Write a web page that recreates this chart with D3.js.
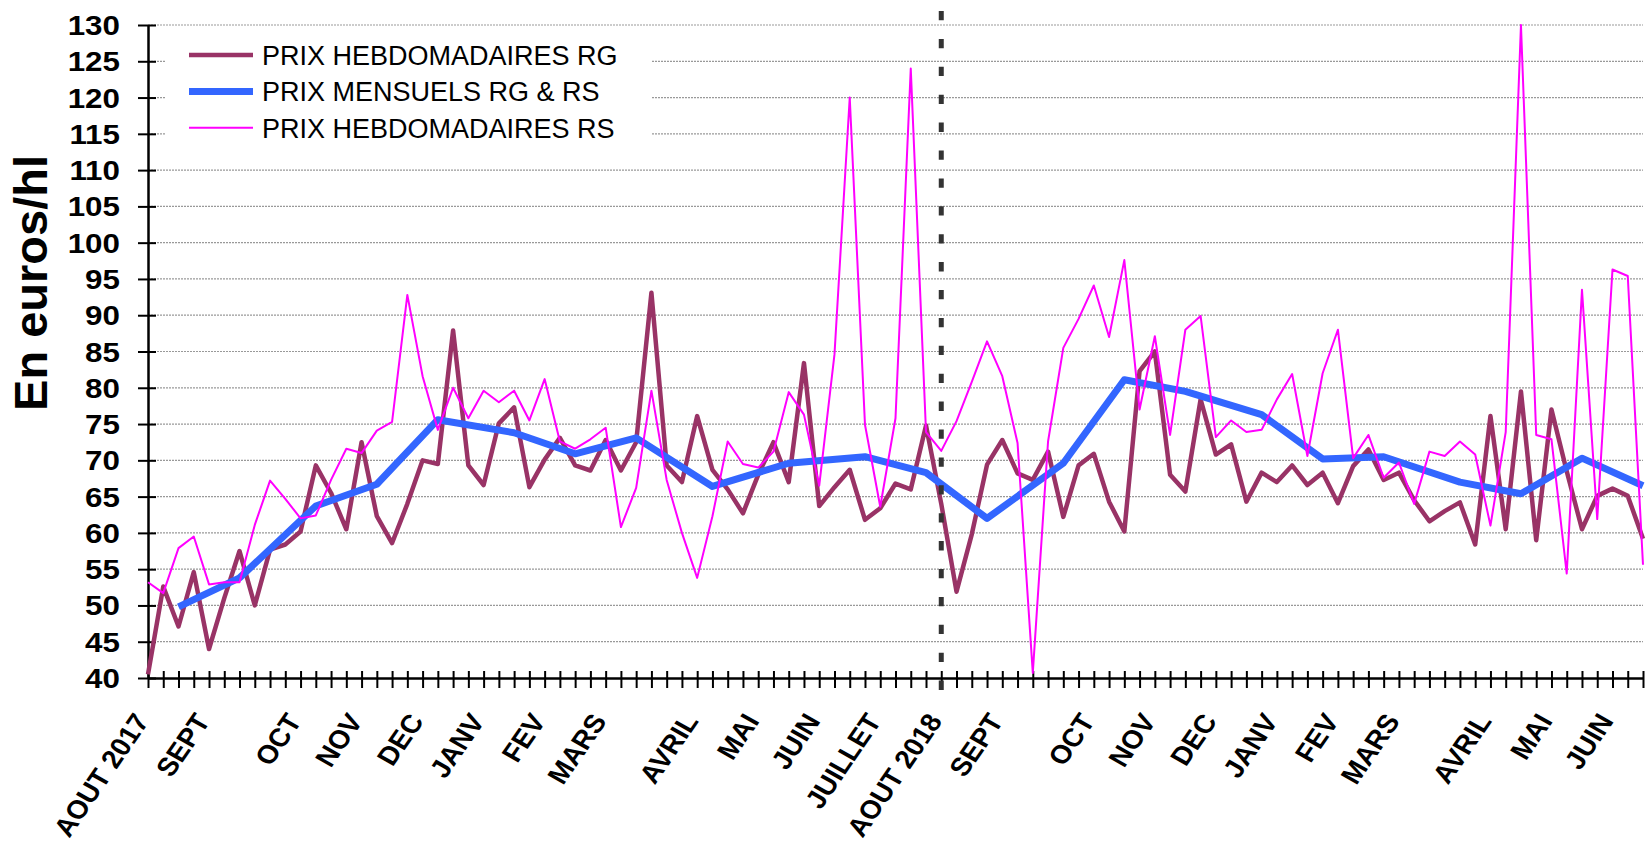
<!DOCTYPE html>
<html lang="fr">
<head>
<meta charset="utf-8">
<title>Prix hebdomadaires et mensuels RG / RS</title>
<script src="https://d3js.org/d3.v7.min.js"></script>
<style>
  body { margin: 0; background: #fff; }
  svg { display: block; font-family: Arial, "Liberation Sans", sans-serif; }
  .axis path, .axis line { stroke: #000; }
  .grid line { stroke: #999; stroke-width: 1.2px; stroke-dasharray: 2,1; }
</style>
</head>
<body>
<div id="chart"></div>
<script>
// weekly prices from AOUT 2017 to JUIN 2019 (99 weeks, index 0..98)
var prixRG = [40.5, 52.6, 47.1, 54.6, 44.0, 51.0, 57.5, 50.0, 57.7, 58.4,
              60.2, 69.3, 65.5, 60.5, 72.5, 62.3, 58.6, 64.0, 70.0, 69.5,
              87.9, 69.3, 66.6, 75.1, 77.3, 66.3, 70.1, 73.1, 69.3, 68.6,
              72.8, 68.6, 72.5, 93.1, 69.3, 67.0, 76.1, 68.7, 66.0, 62.7,
              68.0, 72.5, 67.0, 83.4, 63.7, 66.3, 68.7, 61.8, 63.4, 66.8,
              66.0, 74.8, 64.0, 51.9, 59.8, 69.4, 72.8, 68.2, 67.3, 71.2,
              62.2, 69.3, 70.9, 64.3, 60.2, 82.3, 85.0, 68.0, 65.7, 78.4,
              70.8, 72.2, 64.3, 68.3, 67.0, 69.3, 66.6, 68.3, 64.1, 69.2,
              71.5, 67.3, 68.3, 64.5, 61.6, 63.0, 64.2, 58.4, 76.1, 60.5,
              79.5, 59.0, 77.0, 68.5, 60.5, 65.1, 66.1, 65.1, 59.2];

var prixRS = [53.2, 51.7, 57.9, 59.5, 52.9, 53.2, 53.2, 61.1, 67.2, 64.7,
              62.0, 62.4, 67.3, 71.6, 71.0, 74.1, 75.3, 92.8, 81.6, 74.2,
              80.0, 75.8, 79.6, 78.0, 79.6, 75.5, 81.2, 72.6, 71.6, 72.9,
              74.5, 60.8, 66.2, 79.6, 67.3, 60.0, 53.8, 62.3, 72.6, 69.5,
              69.0, 71.2, 79.4, 76.3, 66.5, 84.6, 120.0, 74.9, 63.6, 75.8,
              124.0, 73.9, 71.3, 75.4, 80.8, 86.4, 81.6, 72.4, 40.7, 72.6,
              85.5, 89.5, 94.1, 87.0, 97.6, 77.0, 87.1, 73.5, 88.0, 89.9,
              73.2, 75.5, 73.9, 74.2, 78.4, 81.9, 70.6, 82.0, 88.0, 70.3,
              73.5, 67.6, 69.7, 64.0, 71.2, 70.6, 72.6, 70.8, 61.0, 73.9,
              130.0, 73.5, 72.9, 54.4, 93.5, 61.9, 96.3, 95.4, 55.6];

// monthly price RG & RS, with the week where each month is plotted
var moisIdx     = [2, 6, 11, 15, 19, 24, 28, 32, 37, 42, 47, 51,
                   55, 60, 64, 68, 73, 77, 81, 86, 90, 94, 98];
var prixMensuel = [49.8, 53.8, 63.7, 66.7, 75.6, 73.8, 70.9, 73.1, 66.4, 69.6, 70.5, 68.3,
                   62.0, 69.6, 81.1, 79.5, 76.3, 70.2, 70.5, 67.0, 65.4, 70.3, 66.5];

// month labels on the category axis
var labelIdx = [0, 4, 10, 14, 18, 22, 26, 30, 36, 40, 44, 48,
                52, 56, 62, 66, 70, 74, 78, 82, 88, 92, 96];
var labelTxt = ["AOUT 2017", "SEPT", "OCT", "NOV", "DEC", "JANV", "FEV", "MARS", "AVRIL", "MAI", "JUIN", "JUILLET",
                "AOUT 2018", "SEPT", "OCT", "NOV", "DEC", "JANV", "FEV", "MARS", "AVRIL", "MAI", "JUIN"];

var yTicks = d3.range(40, 131, 5);
var coupure = 52; // AOUT 2018

var legendNames  = ["PRIX HEBDOMADAIRES RG", "PRIX MENSUELS RG & RS", "PRIX HEBDOMADAIRES RS"];
var legendColors = ["#993366", "#3366ff", "#ff00ff"];
var legendWidths = [4.5, 7, 2];

var width = 1646, height = 845;

var svg = d3.select("#chart").append("svg")
    .attr("width", width)
    .attr("height", height);

var x = d3.scaleLinear().domain([0, prixRG.length - 1]).range([148, 1643]);
var y = d3.scaleLinear().domain([40, 130]).range([678, 25]);

// horizontal gridlines
svg.append("g").attr("class", "grid")
    .selectAll("line")
    .data(yTicks.slice(1))
    .enter().append("line")
    .attr("x1", x(0)).attr("x2", x(prixRG.length - 1))
    .attr("y1", function(d) { return y(d); })
    .attr("y2", function(d) { return y(d); });

// y axis, ticks crossing the line
var yAxis = svg.append("g").attr("class", "axis")
    .attr("transform", "translate(" + x(0) + ",0)")
    .call(d3.axisLeft(y).tickValues(yTicks).tickSize(10).tickSizeOuter(0).tickFormat(""));
yAxis.select(".domain").attr("stroke-width", 2.5);
yAxis.selectAll(".tick line").attr("x1", 8).attr("stroke-width", 2);

svg.append("g").selectAll("text")
    .data(yTicks)
    .enter().append("text")
    .attr("transform", function(d) { return "translate(120," + (y(d) + 10) + ") scale(1.12,1)"; })
    .attr("text-anchor", "end")
    .attr("font-size", 28)
    .attr("font-weight", "bold")
    .text(function(d) { return d; });

svg.append("text")
    .attr("transform", "translate(47,283) rotate(-90)")
    .attr("text-anchor", "middle")
    .attr("font-size", 47)
    .attr("font-weight", "bold")
    .text("En euros/hl");

// x axis, one tick per week
var xAxis = svg.append("g").attr("class", "axis")
    .attr("transform", "translate(0," + y(40) + ")")
    .call(d3.axisBottom(x).tickValues(d3.range(prixRG.length)).tickSize(10).tickSizeOuter(0).tickFormat(""));
xAxis.select(".domain").attr("stroke-width", 2.5);
xAxis.selectAll(".tick line").attr("y1", -7).attr("stroke-width", 2);

svg.append("g").selectAll("text")
    .data(labelIdx)
    .enter().append("text")
    .attr("transform", function(d) { return "translate(" + (x(d) + 2) + ",721) scale(1.1,1) rotate(-58)"; })
    .attr("text-anchor", "end")
    .attr("font-size", 26)
    .attr("font-weight", "bold")
    .text(function(d, i) { return labelTxt[i]; });

// series
var line = d3.line()
    .x(function(d) { return x(d[0]); })
    .y(function(d) { return y(d[1]); });

svg.append("path")
    .datum(prixRG.map(function(v, i) { return [i, v]; }))
    .attr("fill", "none")
    .attr("stroke", legendColors[0])
    .attr("stroke-width", legendWidths[0])
    .attr("stroke-linejoin", "round")
    .attr("d", line);

svg.append("path")
    .datum(moisIdx.map(function(v, i) { return [v, prixMensuel[i]]; }))
    .attr("fill", "none")
    .attr("stroke", legendColors[1])
    .attr("stroke-width", legendWidths[1])
    .attr("stroke-linejoin", "round")
    .attr("d", line);

svg.append("path")
    .datum(prixRS.map(function(v, i) { return [i, v]; }))
    .attr("fill", "none")
    .attr("stroke", legendColors[2])
    .attr("stroke-width", legendWidths[2])
    .attr("stroke-linejoin", "round")
    .attr("d", line);

// separation between the two campaigns
svg.append("line")
    .attr("x1", x(coupure)).attr("x2", x(coupure))
    .attr("y1", 11).attr("y2", 690)
    .attr("stroke", "#333")
    .attr("stroke-width", 5)
    .attr("stroke-dasharray", "9.3,18.6");

// legend
var legend = svg.append("g");
legend.append("rect")
    .attr("x", 165).attr("y", 33)
    .attr("width", 486).attr("height", 115)
    .attr("fill", "#fff");

var items = legend.selectAll("g.item")
    .data(legendNames)
    .enter().append("g")
    .attr("class", "item")
    .attr("transform", function(d, i) { return "translate(0," + (55 + i * 36.4) + ")"; });

items.append("line")
    .attr("x1", 189).attr("x2", 253)
    .attr("stroke", function(d, i) { return legendColors[i]; })
    .attr("stroke-width", function(d, i) { return legendWidths[i]; });

items.append("text")
    .attr("x", 262)
    .attr("dy", "0.36em")
    .attr("font-size", 27)
    .text(function(d) { return d; });
</script>
</body>
</html>
